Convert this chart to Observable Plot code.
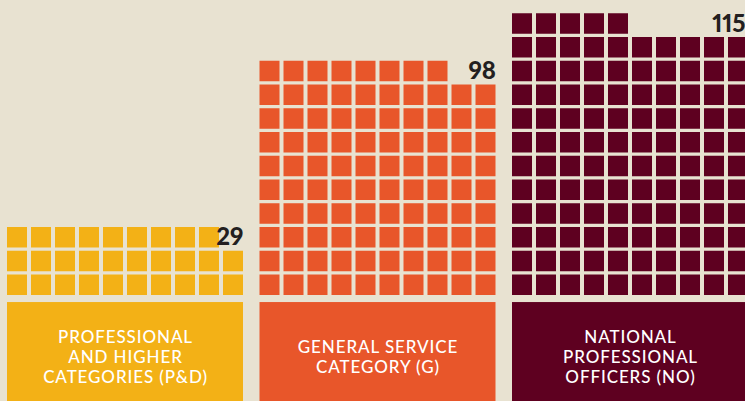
<!DOCTYPE html>
<html>
<head>
<meta charset="utf-8">
<script src="https://cdn.jsdelivr.net/npm/d3@7"></script>
<script src="https://cdn.jsdelivr.net/npm/@observablehq/plot@0.6"></script>
<style>
  html, body { margin: 0; padding: 0; background: #e8e2d1; overflow: hidden; }
  #chart svg { display: block; }
  #chart g[fill="white"] text { letter-spacing: 0.9px; }
  #chart g[fill="#231f20"] text { font-variant-numeric: proportional-nums; }
</style>
</head>
<body>
<div id="chart"></div>
<script>
// Data
const categories = [
  "PROFESSIONAL\nAND HIGHER\nCATEGORIES (P&D)",
  "GENERAL SERVICE\nCATEGORY (G)",
  "NATIONAL\nPROFESSIONAL\nOFFICERS (NO)"
];
const counts = [29, 98, 115];
const colors = ["#f3b116", "#e8562a", "#5e0020"];
const perRow = 10;

// Layout constants (in scale units)
const groupStep = 252.5 / 24;   // distance between group starts, in cell units
const xMax = (745 - 5) / 24;    // right edge of the picture, in cell units

// Derived unit cells
const cells = [];
categories.forEach((cat, g) => {
  for (let i = 0; i < counts[g]; i++) {
    cells.push({cat, col: g * groupStep + (i % perRow), row: Math.floor(i / perRow)});
  }
});
const groupsTbl = categories.map((cat, g) => ({
  cat,
  count: counts[g],
  x1: g * groupStep,
  x2: g * groupStep + perRow,
  topRow: Math.floor((counts[g] - 1) / perRow)
}));

const chart = Plot.plot({
  width: 745,
  height: 401,
  margin: 0,
  style: {background: "#e8e2d1", overflow: "hidden"},
  x: {domain: [0, 32], range: [5, 5 + 24 * 32], axis: null},
  y: {domain: [-5, 12], range: [298.25 + 5 * 23.75, 298.25 - 12 * 23.75], axis: null},
  color: {domain: categories, range: colors},
  marks: [
    Plot.rect(cells, {
      x1: "col", x2: d => d.col + 1,
      y1: "row", y2: d => d.row + 1,
      fill: "cat",
      insetLeft: 2, insetRight: 2, insetBottom: 3.25
    }),
    // label boxes under each group
    Plot.rect(groupsTbl, {
      x1: "x1", x2: "x2",
      y1: -0.16, y2: -5,
      fill: "cat",
      insetLeft: 2, insetRight: 2
    }),
    Plot.text(groupsTbl, {
      x: d => (d.x1 + d.x2) / 2,
      y: -2.43,
      text: "cat",
      fill: "white",
      fontSize: 17,
      fontWeight: 500,
      fontFamily: "Lato, sans-serif",
      lineHeight: 1.2,
      lineAnchor: "middle",
      textAnchor: "middle"
    }),
    // value labels at top-right of each waffle
    Plot.text(groupsTbl, {
      x: d => Math.min(d.x2 - 2 / 24, xMax),
      y: d => d.topRow + 0.57,
      text: d => String(d.count),
      textAnchor: "end",
      lineAnchor: "middle",
      fill: "#231f20",
      fontSize: 24,
      fontWeight: 900,
      fontFamily: "Lato, sans-serif"
    })
  ]
});
document.getElementById("chart").append(chart);
</script>
</body>
</html>
